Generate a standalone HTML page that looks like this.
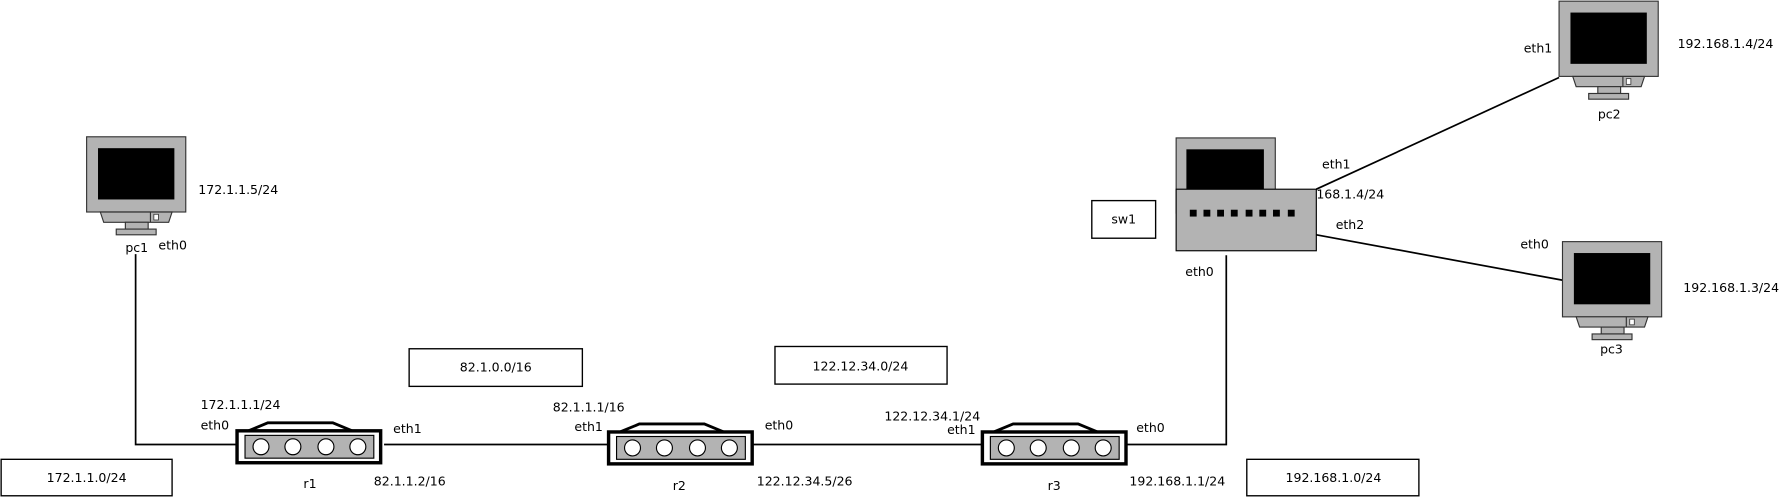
<!DOCTYPE html>
<html><head><meta charset="utf-8"><style>
html,body{margin:0;padding:0;background:#fff;}
svg{display:block;}
text{font-family:"DejaVu Sans","Liberation Sans",sans-serif;font-size:11px;fill:#000;}
</style></head><body>
<svg width="1787" height="499" viewBox="0 0 1568 437.8" xmlns="http://www.w3.org/2000/svg">
<defs>
<g id="pc">
<rect x="0" y="0" width="87" height="66" fill="#b3b3b3" stroke="#333" stroke-width="1"/>
<rect x="10" y="10" width="67" height="45" fill="#000"/>
<polygon points="12,66 75,66 72,75 15,75" fill="#b3b3b3" stroke="#333" stroke-width="1"/>
<line x1="56" y1="66" x2="56" y2="75" stroke="#333" stroke-width="1"/>
<rect x="59" y="68" width="4" height="5" fill="#fff" stroke="#333" stroke-width="0.7"/>
<rect x="34" y="75" width="20" height="6" fill="#b3b3b3" stroke="#333" stroke-width="1"/>
<rect x="26" y="81" width="35" height="5" fill="#b3b3b3" stroke="#333" stroke-width="1"/>
</g>
<g id="rt">
<polygon points="10,0 27,-7 84,-7 101,0" fill="#fff" stroke="#000" stroke-width="2.5"/>
<rect x="0" y="0" width="126" height="28" fill="#fff" stroke="#000" stroke-width="3"/>
<rect x="7" y="4" width="113" height="20" fill="#b3b3b3" stroke="#000" stroke-width="1"/>
<circle cx="21" cy="14" r="7" fill="#fff" stroke="#000" stroke-width="1"/>
<circle cx="49" cy="14" r="7" fill="#fff" stroke="#000" stroke-width="1"/>
<circle cx="78" cy="14" r="7" fill="#fff" stroke="#000" stroke-width="1"/>
<circle cx="106" cy="14" r="7" fill="#fff" stroke="#000" stroke-width="1"/>
</g>
</defs>
<g stroke="#000" stroke-width="1.5" fill="none">
<polyline points="119,223 119,390 208,390"/>
<line x1="337" y1="390" x2="534" y2="390"/>
<line x1="659" y1="390" x2="862" y2="390"/>
<polyline points="988,390 1076,390 1076,224"/>
<line x1="1155" y1="166" x2="1368" y2="68"/>
<line x1="1155" y1="206" x2="1372" y2="246"/>
</g>
<use href="#pc" x="76" y="120"/>
<use href="#pc" x="1368" y="1"/>
<use href="#pc" x="1371" y="212"/>
<use href="#rt" x="208" y="378"/>
<use href="#rt" x="534" y="379"/>
<use href="#rt" x="862" y="379"/>
<!-- switch -->
<rect x="1032" y="121" width="87" height="66" fill="#b3b3b3" stroke="#333"/>
<rect x="1041" y="131" width="68" height="40" fill="#000"/>
<rect x="1032" y="166" width="123" height="54" fill="#b3b3b3" stroke="#000" stroke-width="1"/>
<g fill="#000">
<rect x="1044" y="184" width="6" height="6"/><rect x="1056" y="184" width="6" height="6"/>
<rect x="1068" y="184" width="6" height="6"/><rect x="1080" y="184" width="6" height="6"/>
<rect x="1093" y="184" width="6" height="6"/><rect x="1105" y="184" width="6" height="6"/>
<rect x="1117" y="184" width="6" height="6"/><rect x="1130" y="184" width="6" height="6"/>
</g>
<g fill="#fff" stroke="#000" stroke-width="1.2">
<rect x="1" y="403" width="150" height="32"/>
<rect x="359" y="306" width="152" height="33"/>
<rect x="680" y="304" width="151" height="33"/>
<rect x="1094" y="403" width="151" height="32"/>
<rect x="958" y="176" width="56" height="33"/>
</g>
<text x="76" y="423" text-anchor="middle">172.1.1.0/24</text>
<text x="435" y="326" text-anchor="middle">82.1.0.0/16</text>
<text x="755" y="325" text-anchor="middle">122.12.34.0/24</text>
<text x="1170" y="423" text-anchor="middle">192.168.1.0/24</text>
<text x="986" y="196" text-anchor="middle">sw1</text>
<text x="120" y="221" text-anchor="middle">pc1</text>
<text x="139" y="219">eth0</text>
<text x="174" y="170">172.1.1.5/24</text>
<text x="176" y="359">172.1.1.1/24</text>
<text x="176" y="377">eth0</text>
<text x="345" y="380">eth1</text>
<text x="272" y="428" text-anchor="middle">r1</text>
<text x="328" y="426">82.1.1.2/16</text>
<text x="485" y="361">82.1.1.1/16</text>
<text x="504" y="378">eth1</text>
<text x="671" y="377">eth0</text>
<text x="596" y="430" text-anchor="middle">r2</text>
<text x="664" y="426">122.12.34.5/26</text>
<text x="776" y="369">122.12.34.1/24</text>
<text x="831" y="381">eth1</text>
<text x="997" y="379">eth0</text>
<text x="925" y="430" text-anchor="middle">r3</text>
<text x="991" y="426">192.168.1.1/24</text>
<text x="1040" y="242">eth0</text>
<text x="1160" y="148">eth1</text>
<text x="1155" y="174">168.1.4/24</text>
<text x="1172" y="201">eth2</text>
<text x="1337" y="46">eth1</text>
<text x="1472" y="42">192.168.1.4/24</text>
<text x="1412" y="104" text-anchor="middle">pc2</text>
<text x="1334" y="218">eth0</text>
<text x="1477" y="256">192.168.1.3/24</text>
<text x="1414" y="310" text-anchor="middle">pc3</text>
</svg>
</body></html>
